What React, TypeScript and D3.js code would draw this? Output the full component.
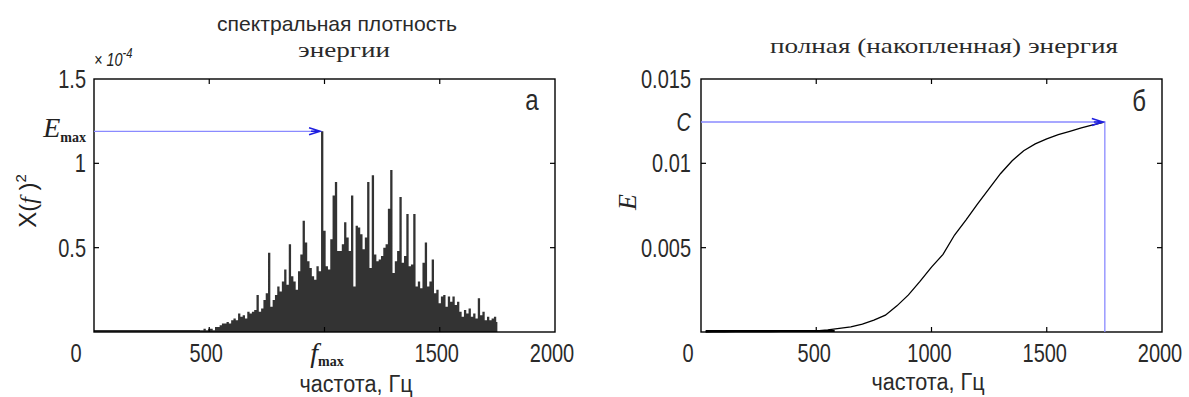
import * as d3 from "d3";
import { useEffect, useRef } from "react";

// spectral energy density, units of 1e-4, 10 Hz bins from 460 Hz
const specStart = 460;
const specStep = 10;
const specValues = [
  0.01, 0.01, 0.02, 0.01, 0.02, 0.02, 0.01, 0.03, 0.03, 0.04,
  0.05, 0.05, 0.06, 0.05, 0.07, 0.08, 0.07, 0.11, 0.09, 0.1,
  0.08, 0.12, 0.11, 0.12, 0.13, 0.22, 0.12, 0.14, 0.19, 0.23,
  0.47, 0.15, 0.19, 0.22, 0.27, 0.24, 0.3, 0.37, 0.28, 0.52,
  0.33, 0.3, 0.25, 0.36, 0.46, 0.66, 0.53, 0.42, 0.38, 0.33,
  0.31, 0.39, 0.36, 1.19, 0.6, 0.39, 0.37, 0.55, 0.81, 0.89,
  0.48, 0.48, 0.52, 0.65, 0.56, 0.48, 0.81, 0.27, 0.63, 0.62,
  0.58, 0.49, 0.56, 0.89, 0.38, 0.93, 0.46, 0.42, 0.43, 0.45,
  0.5, 0.52, 0.73, 0.96, 0.35, 0.42, 0.48, 0.8, 0.41, 0.45,
  0.7, 0.39, 0.4, 0.7, 0.27, 0.3, 0.26, 0.41, 0.53, 0.27,
  0.3, 0.43, 0.23, 0.25, 0.17, 0.21, 0.22, 0.15, 0.21, 0.18,
  0.21, 0.16, 0.18, 0.12, 0.09, 0.13, 0.11, 0.14, 0.09, 0.11,
  0.08, 0.2, 0.1, 0.12, 0.07, 0.09, 0.07, 0.08, 0.09, 0.06,
];

// cumulative energy
const energyFreqs = [
  20, 50, 100, 150, 200, 250, 300, 350, 400, 450, 500, 550, 600, 650, 700, 750, 800, 850,
  900, 950, 1000, 1050, 1100, 1150, 1200, 1250, 1300, 1350, 1400, 1450, 1500, 1550, 1600,
  1650, 1700, 1750,
];
const energyValues = [
  0, 0.00001, 0.00001, 0.00002, 0.00002, 0.00003, 0.00003, 0.00004, 0.00004, 0.00005,
  0.00007, 0.00012, 0.00022, 0.0003, 0.00047, 0.0007, 0.001, 0.00155, 0.0022, 0.003,
  0.00385, 0.0046, 0.00575, 0.00665, 0.0076, 0.0085, 0.0094, 0.01015, 0.01075, 0.01115,
  0.01145, 0.0117, 0.0119, 0.0121, 0.01228, 0.01245,
];

const fMax = 985;
const eMax = 1.19;
const fEnd = 1752;
const cTotal = 0.01245;

const xTicks = [0, 500, 1000, 1500, 2000];
const leftXLabels = ["0", "500", "", "1500", "2000"];
const rightXLabels = ["0", "500", "1000", "1500", "2000"];
const leftYTicks = [0.5, 1, 1.5];
const leftYLabels = ["0.5", "1", "1.5"];
const rightYTicks = [0.005, 0.01, 0.015];
const rightYLabels = ["0.005", "0.01", "0.015"];

const SANS = "'Liberation Sans', Arial, sans-serif";
const SERIF = "'Liberation Serif', 'Times New Roman', serif";

const App = () => {
  const svgRef = useRef(null);

  const renderSVG = () => {
    const dims = { width: 1189, height: 397, top: 79, bottom: 332, tick: 5, narrow: 0.8 };
    const panels = [
      { x0: 94, x1: 555 },
      { x0: 701, x1: 1162 },
    ];

    svgRef.current.innerHTML = "";
    const svg = d3
      .select(svgRef.current)
      .attr("width", dims.width)
      .attr("height", dims.height)
      .attr("viewBox", [0, 0, dims.width, dims.height])
      .style("position", "absolute")
      .style("left", 0)
      .style("top", 0)
      .style("background", "#fff");

    const xL = d3.scaleLinear([0, 2000], [panels[0].x0, panels[0].x1]);
    const yL = d3.scaleLinear([0, 1.5], [dims.bottom, dims.top]);
    const xR = d3.scaleLinear([0, 2000], [panels[1].x0, panels[1].x1]);
    const yR = d3.scaleLinear([0, 0.015], [dims.bottom, dims.top]);

    const frame = (x, y, yTicks) => {
      const g = svg.append("g");
      const [a, b] = x.range();
      g.append("rect")
        .attr("x", a)
        .attr("y", dims.top)
        .attr("width", b - a)
        .attr("height", dims.bottom - dims.top)
        .attr("fill", "none")
        .attr("stroke", "#000")
        .attr("stroke-width", 1.4);
      xTicks.slice(1, -1).forEach((t) => {
        g.append("line").attr("x1", x(t)).attr("x2", x(t)).attr("y1", dims.bottom).attr("y2", dims.bottom - dims.tick);
        g.append("line").attr("x1", x(t)).attr("x2", x(t)).attr("y1", dims.top).attr("y2", dims.top + dims.tick);
      });
      yTicks.slice(0, -1).forEach((t) => {
        g.append("line").attr("x1", a).attr("x2", a + dims.tick).attr("y1", y(t)).attr("y2", y(t));
        g.append("line").attr("x1", b).attr("x2", b - dims.tick).attr("y1", y(t)).attr("y2", y(t));
      });
      g.selectAll("line").attr("stroke", "#000").attr("stroke-width", 1.2);
      return g;
    };

    // condensed sans text (MATLAB-like narrow Helvetica)
    const narrow = (x, y, txt, size, anchor = "middle") =>
      svg
        .append("text")
        .attr("transform", `translate(${x},${y}) scale(${dims.narrow},1)`)
        .attr("text-anchor", anchor)
        .attr("font-family", SANS)
        .attr("font-size", size)
        .attr("fill", "#2a2a2a")
        .text(txt);

    const label = (x, y, txt, size, family = SERIF) =>
      svg
        .append("text")
        .attr("x", x)
        .attr("y", y)
        .attr("text-anchor", "middle")
        .attr("font-family", family)
        .attr("font-size", size)
        .attr("fill", "#2a2a2a")
        .text(txt);

    // ---------- left: spectral density ----------
    const spec = specValues.map((v, i) => [specStart + i * specStep, v]);
    svg
      .append("path")
      .attr(
        "d",
        d3
          .area()
          .x((d) => xL(d[0]))
          .y0(yL(0))
          .y1((d) => yL(d[1]))
          .curve(d3.curveStep)(spec)
      )
      .attr("fill", "#333");
    svg
      .append("line")
      .attr("x1", xL(0))
      .attr("x2", xL(specStart))
      .attr("y1", yL(0) - 1)
      .attr("y2", yL(0) - 1)
      .attr("stroke", "#333")
      .attr("stroke-width", 2);

    frame(xL, yL, leftYTicks);

    // E_max arrow
    svg
      .append("line")
      .attr("x1", xL(0))
      .attr("x2", xL(fMax) - 2)
      .attr("y1", yL(eMax))
      .attr("y2", yL(eMax))
      .attr("stroke", "#8a8aff")
      .attr("stroke-width", 1.3);
    const arrowHead = (tx, ty) =>
      svg
        .append("path")
        .attr("d", `M${tx - 11},${ty - 3.5}L${tx},${ty}L${tx - 11},${ty + 3.5}M${tx - 9},${ty}L${tx},${ty}`)
        .attr("fill", "none")
        .attr("stroke", "#1f1fe0")
        .attr("stroke-width", 1.6);
    arrowHead(xL(fMax) - 1, yL(eMax));

    leftYTicks.forEach((t, i) => {
      narrow(xL(0) - 8, yL(t) + 9, leftYLabels[i], 25, "end");
    });
    xTicks.forEach((t, i) => {
      if (!leftXLabels[i]) return;
      narrow(t === 0 ? xL(t) - 18 : xL(t) - 3, 362, leftXLabels[i], 25);
    });

    const fm = svg.append("text").attr("x", xL(fMax) + 6).attr("y", 362).attr("text-anchor", "middle").attr("font-family", SERIF).attr("fill", "#222");
    fm.append("tspan").attr("font-size", 28).attr("font-style", "italic").text("f");
    fm.append("tspan").attr("font-size", 14).attr("font-weight", "bold").attr("dy", 4).text("max");

    const em = svg.append("text").attr("x", 86).attr("y", 137).attr("text-anchor", "end").attr("font-family", SERIF).attr("fill", "#222");
    em.append("tspan").attr("font-size", 28).attr("font-style", "italic").text("E");
    em.append("tspan").attr("font-size", 14).attr("font-weight", "bold").attr("dy", 5).text("max");

    const sc = svg
      .append("text")
      .attr("transform", `translate(94,66) scale(${dims.narrow},1)`)
      .attr("font-family", SANS)
      .attr("font-style", "italic")
      .attr("font-size", 18)
      .attr("fill", "#222");
    sc.append("tspan").text("× 10");
    sc.append("tspan").attr("font-size", 14).attr("dy", -8).text("-4");

    const yl = svg.append("text").attr("transform", "translate(36,201) rotate(-90)").attr("text-anchor", "middle").attr("font-size", 24).attr("fill", "#222");
    yl.append("tspan").attr("font-family", SANS).text("X(");
    yl.append("tspan").attr("font-family", SERIF).attr("font-style", "italic").text("f");
    yl.append("tspan").attr("font-family", SANS).text(" )");
    yl.append("tspan").attr("font-family", SANS).attr("font-size", 15).attr("dy", -10).text("2");

    narrow(532, 110, "а", 30);
    label(337, 31, "спектральная плотность", 21, SANS).attr("textLength", 240).attr("lengthAdjust", "spacingAndGlyphs");
    label(344, 57, "энергии", 22).attr("textLength", 92).attr("lengthAdjust", "spacingAndGlyphs");
    label(356, 392, "частота, Гц", 23, SANS).attr("textLength", 113).attr("lengthAdjust", "spacingAndGlyphs");

    // ---------- right: cumulative energy ----------
    const pts = energyFreqs.map((f, i) => [f, energyValues[i]]);
    svg
      .append("path")
      .attr("d", d3.line().x((d) => xR(d[0])).y((d) => yR(d[1]))(pts))
      .attr("fill", "none")
      .attr("stroke", "#000")
      .attr("stroke-width", 1.3);
    svg
      .append("line")
      .attr("x1", xR(energyFreqs[0]))
      .attr("x2", xR(580))
      .attr("y1", yR(0) - 1)
      .attr("y2", yR(0) - 1)
      .attr("stroke", "#000")
      .attr("stroke-width", 2.2);

    frame(xR, yR, rightYTicks);

    svg
      .append("path")
      .attr("d", `M${xR(0)},${yR(cTotal)}H${xR(fEnd)}V${yR(0)}`)
      .attr("fill", "none")
      .attr("stroke", "#8a8aff")
      .attr("stroke-width", 1.3);
    arrowHead(xR(fEnd) - 2, yR(cTotal));

    rightYTicks.forEach((t, i) => {
      narrow(xR(0) - 10, yR(t) + 9, rightYLabels[i], 25, "end");
    });
    narrow(xR(0) - 10, yR(cTotal) + 9, "C", 25, "end").attr("font-style", "italic");
    xTicks.forEach((t, i) => {
      narrow(t === 0 ? xR(t) - 13 : xR(t) - 2, 362, rightXLabels[i], 25);
    });

    narrow(1139, 111, "б", 30);
    label(944, 53, "полная (накопленная) энергия", 22).attr("textLength", 348).attr("lengthAdjust", "spacingAndGlyphs");
    label(928, 390, "частота, Гц", 23, SANS).attr("textLength", 113).attr("lengthAdjust", "spacingAndGlyphs");
    svg
      .append("text")
      .attr("transform", "translate(636,202) rotate(-90)")
      .attr("text-anchor", "middle")
      .attr("font-family", SERIF)
      .attr("font-style", "italic")
      .attr("font-size", 26)
      .attr("fill", "#222")
      .text("E");
  };

  useEffect(() => {
    renderSVG();
  });

  return <svg ref={svgRef} />;
};

export default App;
